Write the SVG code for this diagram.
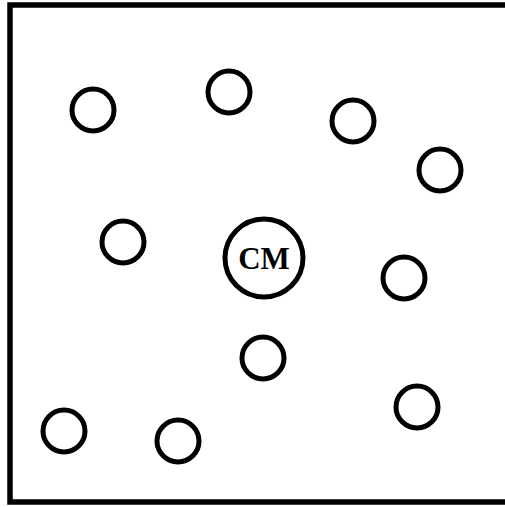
<svg xmlns="http://www.w3.org/2000/svg" width="505" height="507" viewBox="0 0 505 507">
<style>
.b{fill:none;stroke:#000;stroke-width:5.5}
.p{fill:#fff;stroke:#000;stroke-width:5}
.t{font-family:"Liberation Serif",serif;font-weight:bold;font-size:31px;fill:#000;text-anchor:middle}
</style>
<rect x="0" y="0" width="505" height="507" fill="#fff"/>
<rect class="b" x="10" y="5" width="500" height="497"/>
<g id="p1"><circle class="p" cx="93" cy="110" r="21"/></g>
<g id="p2"><circle class="p" cx="229" cy="92" r="21"/></g>
<g id="p3"><circle class="p" cx="353" cy="121" r="21"/></g>
<g id="p4"><circle class="p" cx="440" cy="170" r="21"/></g>
<g id="p5"><circle class="p" cx="123" cy="242" r="21"/></g>
<g id="cm"><circle class="p" cx="264" cy="258" r="39"/><text class="t" x="264" y="269">CM</text></g>
<g id="p7"><circle class="p" cx="404" cy="278" r="21"/></g>
<g id="p8"><circle class="p" cx="263" cy="358" r="21"/></g>
<g id="p9"><circle class="p" cx="417" cy="407" r="21"/></g>
<g id="p10"><circle class="p" cx="64" cy="431" r="21"/></g>
<g id="p11"><circle class="p" cx="178" cy="441" r="21"/></g>
<g id="connectors"></g>
</svg>
